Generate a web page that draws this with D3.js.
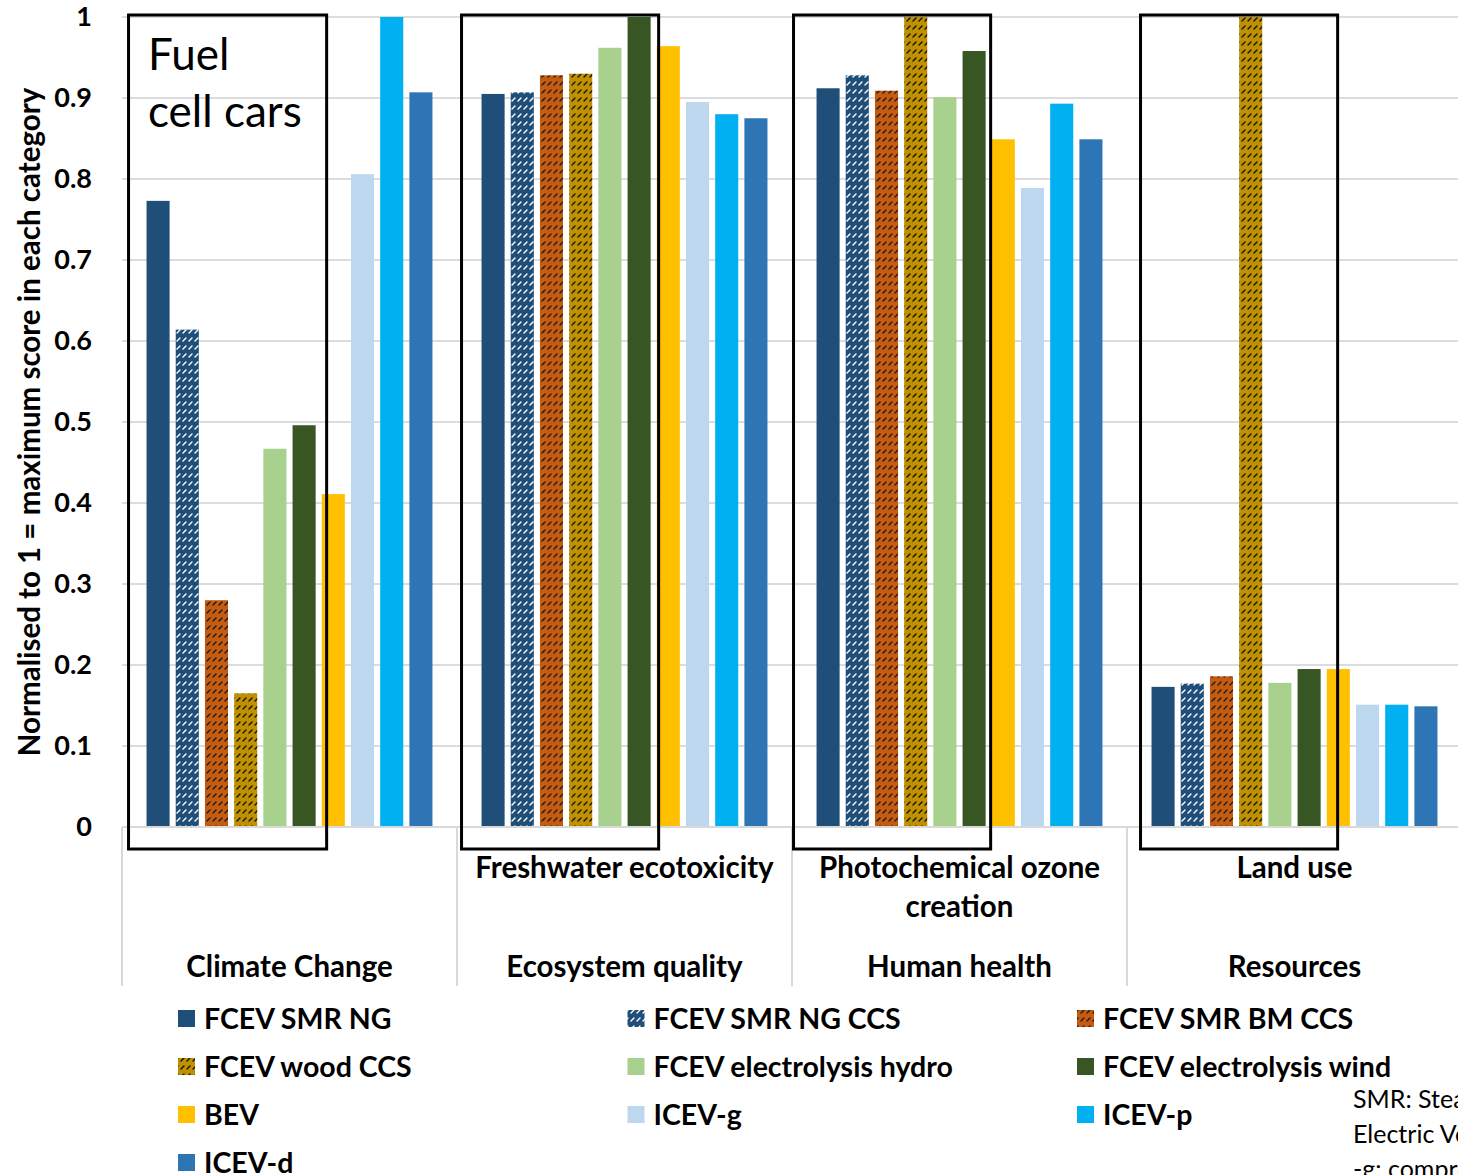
<!DOCTYPE html>
<html>
<head>
<meta charset="utf-8">
<script src="https://cdn.jsdelivr.net/npm/d3@7"></script>
<style>
  html, body { margin: 0; padding: 0; background: #fff; overflow: hidden; }
  svg { display: block; }
  text { font-family: Lato, "Open Sans", sans-serif; fill: #000; }
</style>
</head>
<body>
<svg id="chart" width="1458" height="1175"></svg>
<script>
// Impact categories (upper label) and their area of protection (lower label)
const impacts = ["Climate Change", "Freshwater ecotoxicity", "Photochemical ozone creation", "Land use"];
const areas = ["Climate Change", "Ecosystem quality", "Human health", "Resources"];
const impactLines = [[], ["Freshwater ecotoxicity"], ["Photochemical ozone", "creation"], ["Land use"]];

// Vehicle / hydrogen pathway series
const series = [
  "FCEV SMR NG", "FCEV SMR NG CCS", "FCEV SMR BM CCS", "FCEV wood CCS",
  "FCEV electrolysis hydro", "FCEV electrolysis wind", "BEV", "ICEV-g", "ICEV-p", "ICEV-d"
];
const colors = ["#1F4E79", "#1F4E79", "#C55A11", "#BF9000", "#A9D18E", "#375623", "#FFC000", "#BDD7EE", "#00B0F0", "#2E75B6"];
// hatch colour for patterned series (null = solid fill)
const hatch = [null, "#ffffff", "#1a1a1a", "#111111", null, null, null, null, null, null];

// Normalised scores, one array per series, in category order
const smrNG       = [0.773, 0.905, 0.912, 0.173];
const smrNGccs    = [0.614, 0.907, 0.928, 0.177];
const smrBMccs    = [0.280, 0.928, 0.909, 0.186];
const woodCCS     = [0.165, 0.930, 1.000, 1.000];
const elHydro     = [0.467, 0.962, 0.901, 0.178];
const elWind      = [0.496, 1.000, 0.958, 0.195];
const bev         = [0.411, 0.964, 0.849, 0.195];
const icevG       = [0.806, 0.895, 0.789, 0.151];
const icevP       = [1.000, 0.880, 0.893, 0.151];
const icevD       = [0.907, 0.875, 0.849, 0.149];
const values = [smrNG, smrNGccs, smrBMccs, woodCCS, elHydro, elWind, bev, icevG, icevP, icevD];

const yTicks = [0, 0.1, 0.2, 0.3, 0.4, 0.5, 0.6, 0.7, 0.8, 0.9, 1];
const yTickLabels = ["0", "0.1", "0.2", "0.3", "0.4", "0.5", "0.6", "0.7", "0.8", "0.9", "1"];

const notes = ["SMR: Steam Methane Reforming; FCEV: Fuel Cell", "Electric Vehicle; BEV: Battery Electric Vehicle; ICEV: Internal Combustion Engine Vehicle", "-g: compressed natural gas; -p: petrol; -d: diesel"];

const svg = d3.select("#chart");
const defs = svg.append("defs");

// "dashed upward diagonal" hatch patterns
hatch.forEach((h, i) => {
  if (!h) return;
  const p = defs.append("pattern")
    .attr("id", "hatch" + i)
    .attr("patternUnits", "userSpaceOnUse")
    .attr("width", 6).attr("height", 8);
  p.append("rect").attr("width", 6).attr("height", 8).attr("fill", colors[i]);
  p.append("path")
    .attr("d", "M1,5 L4,2")
    .attr("stroke", h).attr("stroke-width", 1.4).attr("stroke-linecap", "round");
});

const plotLeft = 122, plotRight = 1462, plotTop = 17, plotBottom = 827;

const x0 = d3.scaleBand().domain(d3.range(impacts.length)).range([plotLeft, plotRight]).paddingInner(0).paddingOuter(0);
const x1 = d3.scaleBand().domain(d3.range(series.length)).range([0, x0.bandwidth()]).paddingInner(0.21).paddingOuter(0.84);
const y = d3.scaleLinear().domain([0, 1]).range([plotBottom, plotTop]);

// gridlines
svg.append("g").selectAll("line").data(yTicks.slice(1)).join("line")
  .attr("x1", plotLeft).attr("x2", 1458)
  .attr("y1", d => y(d)).attr("y2", d => y(d))
  .attr("stroke", "#dcdcdc").attr("stroke-width", 2);

// y axis tick labels
const yAxis = d3.axisLeft(y).tickValues(yTicks).tickFormat((d, i) => yTickLabels[i]).tickSize(0).tickPadding(0);
const ya = svg.append("g").attr("transform", `translate(${plotLeft - 30},0)`).call(yAxis);
ya.select(".domain").remove();
ya.selectAll("text").attr("font-size", 27).attr("font-weight", 700).attr("font-family", "Lato, sans-serif");

// bars
const groups = svg.append("g").selectAll("g").data(d3.range(impacts.length)).join("g")
  .attr("transform", c => `translate(${x0(c)},0)`);
groups.selectAll("rect").data(c => series.map((s, i) => ({ i, v: values[i][c] }))).join("rect")
  .attr("x", d => x1(d.i))
  .attr("width", x1.bandwidth())
  .attr("y", d => y(d.v))
  .attr("height", d => y(0) - y(d.v))
  .attr("fill", d => hatch[d.i] ? `url(#hatch${d.i})` : colors[d.i]);

// x axis baseline and category separators
svg.append("line").attr("x1", plotLeft).attr("x2", 1458).attr("y1", plotBottom).attr("y2", plotBottom)
  .attr("stroke", "#d9d9d9").attr("stroke-width", 2);
svg.append("g").selectAll("line").data(d3.range(impacts.length + 1)).join("line")
  .attr("x1", c => plotLeft + c * x0.bandwidth()).attr("x2", c => plotLeft + c * x0.bandwidth())
  .attr("y1", plotBottom).attr("y2", 986)
  .attr("stroke", "#d9d9d9").attr("stroke-width", 2);

// two-level category labels
impactLines.forEach((lines, c) => {
  lines.forEach((t, k) => {
    svg.append("text").attr("x", x0(c) + x0.bandwidth() / 2).attr("y", 878 + k * 39)
      .attr("text-anchor", "middle").attr("font-size", 29.5).attr("font-weight", 700).text(t);
  });
});
areas.forEach((t, c) => {
  svg.append("text").attr("x", x0(c) + x0.bandwidth() / 2).attr("y", 977)
    .attr("text-anchor", "middle").attr("font-size", 29.5).attr("font-weight", 700).text(t);
});

// y axis title
svg.append("text")
  .attr("transform", `translate(40,${(plotTop + plotBottom) / 2}) rotate(-90)`)
  .attr("text-anchor", "middle").attr("font-size", 29.5).attr("font-weight", 700)
  .text("Normalised to 1 = maximum score in each category");

// boxes framing the fuel cell car bars in each category
const boxPad = [[18, 11], [20, 8], [23, 5], [11, 17]];
d3.range(impacts.length).forEach(c => {
  const xa = x0(c) + x1(0) - boxPad[c][0];
  const xb = x0(c) + x1(5) + x1.bandwidth() + boxPad[c][1];
  svg.append("rect").attr("x", xa).attr("y", 15).attr("width", xb - xa).attr("height", 834)
    .attr("fill", "none").attr("stroke", "#000").attr("stroke-width", 3);
});

svg.append("text").attr("x", 148).attr("y", 70).attr("font-size", 44).text("Fuel");
svg.append("text").attr("x", 148).attr("y", 127).attr("font-size", 44).text("cell cars");

// legend
const leg = svg.append("g");
series.forEach((s, i) => {
  const col = i % 3, row = Math.floor(i / 3);
  const lx = 178 + col * 449.5, ly = 1019 + row * 48;
  leg.append("rect").attr("x", lx).attr("y", ly - 9).attr("width", 17).attr("height", 17)
    .attr("fill", hatch[i] ? `url(#hatch${i})` : colors[i]);
  leg.append("text").attr("x", lx + 26).attr("y", ly + 10).attr("font-size", 28.5).attr("font-weight", 700).text(s);
});

// abbreviations note
notes.forEach((t, k) => {
  svg.append("text").attr("x", 1353).attr("y", 1108 + k * 35).attr("font-size", 25).text(t);
});
</script>
</body>
</html>
